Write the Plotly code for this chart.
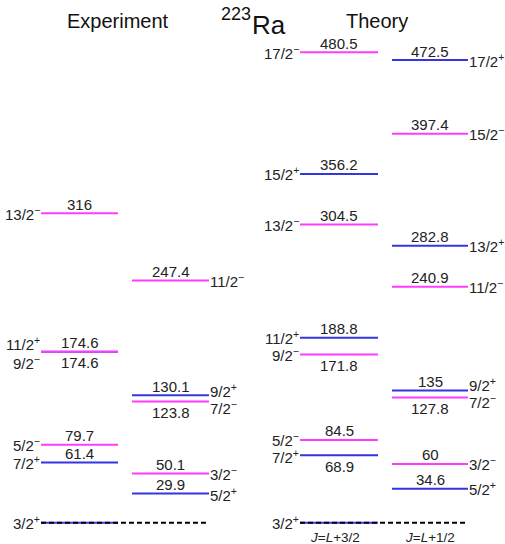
import plotly.graph_objects as go

# ---- level data (energies in keV, spin-parity) ----
exp_left_energy = [0.0, 61.4, 79.7, 174.6, 174.6, 316.0]
exp_left_spin = ["3/2+", "7/2+", "5/2-", "11/2+", "9/2-", "13/2-"]

exp_right_energy = [29.9, 50.1, 123.8, 130.1, 247.4]
exp_right_spin = ["5/2+", "3/2-", "7/2-", "9/2+", "11/2-"]

th_left_energy = [0.0, 68.9, 84.5, 171.8, 188.8, 304.5, 356.2, 480.5]
th_left_spin = ["3/2+", "7/2+", "5/2-", "9/2-", "11/2+", "13/2-", "15/2+", "17/2-"]

th_right_energy = [34.6, 60.0, 127.8, 135.0, 240.9, 282.8, 397.4, 472.5]
th_right_spin = ["5/2+", "3/2-", "7/2-", "9/2+", "11/2-", "13/2+", "15/2-", "17/2+"]

band_labels = ["J=L+3/2", "J=L+1/2"]

# ---- styling / layout ----
MAGENTA = "#ff3cff"
BLUE = "#3535e2"
FONT = "Liberation Sans, Arial, sans-serif"
W, H = 505, 544
E_TOP, E_BOTTOM = 533.9, -21.8

# horizontal extent of each column (x0, x1) and where spin labels sit
columns = {
    "exp_L": (41, 118, "left"),
    "exp_R": (132, 209, "right"),
    "th_L": (300, 378, "left"),
    "th_R": (392, 468, "right"),
}

# value label drawn below the line for these levels
below = {("exp_L", "9/2-"), ("exp_R", "7/2-"), ("th_L", "9/2-"),
         ("th_L", "7/2+"), ("th_R", "7/2-")}
# vertical nudges (px) for spin labels of closely spaced levels
spin_shift = {
    ("exp_L", "11/2+"): 8, ("exp_L", "9/2-"): -11,
    ("exp_R", "9/2+"): 5, ("exp_R", "7/2-"): -6, ("exp_R", "5/2+"): -1,
    ("th_R", "9/2+"): 6, ("th_R", "7/2-"): -4, ("th_L", "7/2+"): -1,
}


def spin_text(s):
    sign = "+" if s.endswith("+") else "−"
    return f"{s[:-1]}<sup>{sign}</sup>"


fig = go.Figure()
annotations = []

data = [
    ("exp_L", exp_left_energy, exp_left_spin),
    ("exp_R", exp_right_energy, exp_right_spin),
    ("th_L", th_left_energy, th_left_spin),
    ("th_R", th_right_energy, th_right_spin),
]

for col, energies, spins in data:
    x0, x1, side = columns[col]
    xc = (x0 + x1) / 2
    for e, s in zip(energies, spins):
        color = BLUE if s.endswith("+") else MAGENTA
        fig.add_trace(go.Scatter(
            x=[x0, x1], y=[e, e], mode="lines",
            line=dict(color=color, width=2),
            hoverinfo="skip", showlegend=False))
        if e == 0:
            # ground state: dashed reference line across both columns
            right_col = "exp_R" if col == "exp_L" else "th_R"
            fig.add_trace(go.Scatter(
                x=[x0, columns[right_col][1] - 1], y=[e, e], mode="lines",
                line=dict(color="black", width=2, dash="5px,3px"),
                hoverinfo="skip", showlegend=False))
        else:
            annotations.append(dict(
                x=xc, y=e, text=f"{e:g}", showarrow=False,
                xanchor="center", yanchor="middle",
                yshift=-11 if (col, s) in below else 9,
                font=dict(size=15, color="#222", family=FONT)))
        if side == "left":
            ax, anchor = x0, "right"
        else:
            ax, anchor = x1, "left"
        annotations.append(dict(
            x=ax, y=e, text=spin_text(s), showarrow=False,
            xanchor=anchor, yanchor="middle", borderpad=0,
            yshift=spin_shift.get((col, s), 0),
            font=dict(size=15, color="#222", family=FONT)))

# band labels under the theory columns
for col, lab, dx in zip(["th_L", "th_R"], band_labels, [-4, 0]):
    x0, x1, _ = columns[col]
    txt = lab.replace("J", "<i>J</i>").replace("L", "<i>L</i>")
    annotations.append(dict(
        x=(x0 + x1) / 2 + dx, y=0, text=txt, showarrow=False,
        xanchor="center", yanchor="middle", borderpad=0, yshift=-15,
        font=dict(size=13.5, color="#222", family=FONT)))

# headings
def heading(x, ypx, text, size):
    return dict(x=x, y=1 - ypx / H, xref="x", yref="paper", text=text,
                xanchor="center", yanchor="middle", showarrow=False,
                font=dict(size=size, color="#111", family=FONT))


annotations += [
    heading(118, 21, "Experiment", 20),
    heading(377, 21, "Theory", 20),
    heading(236, 14, "223", 18),
    heading(269, 25, "Ra", 26),
]

fig.update_layout(
    width=W, height=H,
    margin=dict(l=0, r=0, t=0, b=0),
    paper_bgcolor="white", plot_bgcolor="white",
    xaxis=dict(range=[0, W], visible=False, fixedrange=True),
    yaxis=dict(range=[E_BOTTOM, E_TOP], visible=False, fixedrange=True),
    annotations=annotations,
    showlegend=False,
)

fig.write_html("out.html", config={"displayModeBar": False})
